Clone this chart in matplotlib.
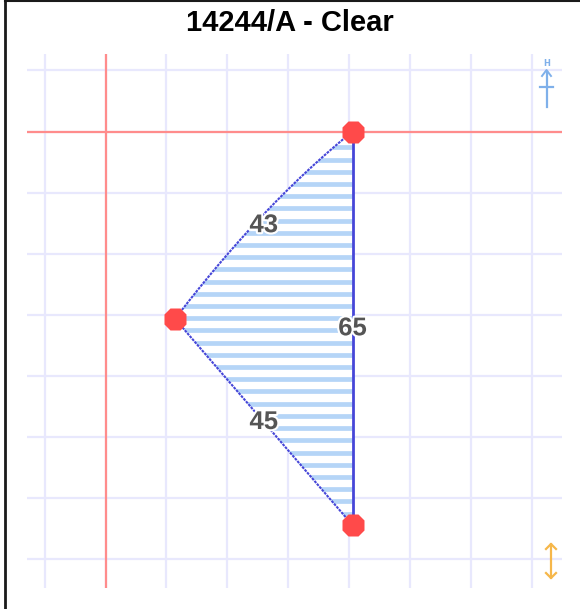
import numpy as np
import matplotlib
matplotlib.use('Agg')
import matplotlib.pyplot as plt
from matplotlib.patches import Polygon
from matplotlib.lines import Line2D
import matplotlib.patheffects as pe

# triangle corners (grid units, y grows downwards): left, top, bottom
corner_x = [11.4, 40.5, 40.5]
corner_y = [30.7, 0.0, 64.5]
# the 43 side is drawn as a curve bending out through this control point
curve_ctrl = (25.7, 12.0)
side_labels = ['43', '65', '45']
title = '14244/A - Clear'

W, H = 580, 609
fig = plt.figure(figsize=(W / 100, H / 100), dpi=100)
fig.patch.set_facecolor('white')

# axes box in pixels: x 27..562, y 54..588
ax = fig.add_axes([27 / W, 1 - 588 / H, 535 / W, 534 / H])
ax.set_xlim(-12.87, 74.84)
ax.set_ylim(74.8, -12.7)
for s in ax.spines.values():
    s.set_visible(False)
ax.set_xticks(np.arange(-10, 71, 10))
ax.set_yticks(np.arange(-10, 71, 10))
ax.tick_params(length=0, labelbottom=False, labelleft=False)
ax.grid(True, color='#e8e8fd', lw=1.6)
ax.set_axisbelow(True)
ax.axhline(0, color='#ff8c8c', lw=1.6, zorder=1)
ax.axvline(0, color='#ff8c8c', lw=1.6, zorder=1)

L = np.array([corner_x[0], corner_y[0]])
T = np.array([corner_x[1], corner_y[1]])
B = np.array([corner_x[2], corner_y[2]])
C = np.array(curve_ctrl)
t = np.linspace(0, 1, 60)[:, None]
curve = (1 - t) ** 2 * L + 2 * t * (1 - t) * C + t ** 2 * T

outline = np.vstack([curve, B, L])
poly = Polygon(outline, closed=True, facecolor='white', edgecolor='none', zorder=2)
ax.add_patch(poly)

# horizontal stripes filling the shape
for yy in np.arange(corner_y[1] + 0.6, corner_y[2], 2.0):
    ln, = ax.plot([corner_x[0] - 2, corner_x[1] + 1], [yy, yy],
                  color='#b5d5f7', lw=3.4, zorder=3, solid_capstyle='butt')
    ln.set_clip_path(poly)

ax.plot(curve[:, 0], curve[:, 1], color='#4646d8', lw=1.5,
        ls=(0, (1.3, 0.5)), zorder=4)
ax.plot([L[0], B[0]], [L[1], B[1]], color='#4646d8', lw=1.5,
        ls=(0, (1.3, 0.5)), zorder=4)
ax.plot([T[0], B[0]], [T[1], B[1]], color='#4646d8', lw=2.0, zorder=4)

ax.plot(corner_x, corner_y, ls='none', marker='8', ms=17,
        color='#ff4a4a', mec='none', zorder=6)

mids = [(L + T) / 2, (T + B) / 2, (L + B) / 2]
for lab, m in zip(side_labels, mids):
    ax.text(m[0], m[1], lab, ha='center', va='center', fontsize=18.5,
            fontweight='bold', family='Liberation Sans', color='#555555', zorder=7,
            path_effects=[pe.withStroke(linewidth=3, foreground='white')])

fig.text(290 / W, 1 - 23 / H, title, ha='center', va='center', fontsize=21,
         fontweight='bold', family='Liberation Sans', color='black')

# small icons at the right edge
def fx(px):
    return px / W

def fy(py):
    return 1 - py / H

blue = '#7fb0ea'
fig.text(fx(546.5), fy(63), 'H', ha='center', va='center', fontsize=6,
         fontweight='bold', color=blue)
fig.add_artist(Line2D([fx(546.5), fx(546.5)], [fy(107), fy(72)], color=blue, lw=1.6))
fig.add_artist(Line2D([fx(542), fx(546.5), fx(551)], [fy(76), fy(70), fy(76)], color=blue, lw=1.4))
fig.add_artist(Line2D([fx(540), fx(553)], [fy(87), fy(87)], color=blue, lw=1.6))

orange = '#f6b74a'
fig.add_artist(Line2D([fx(551), fx(551)], [fy(544), fy(578)], color=orange, lw=1.6))
fig.add_artist(Line2D([fx(546), fx(551), fx(556)], [fy(549), fy(544), fy(549)], color=orange, lw=1.6))
fig.add_artist(Line2D([fx(546), fx(551), fx(556)], [fy(573), fy(578), fy(573)], color=orange, lw=1.6))

# page frame (left and top edges only are inside the picture)
fig.add_artist(Line2D([fx(4.5), fx(4.5)], [fy(1), fy(H + 5)], color='#1a1a1a', lw=2))
fig.add_artist(Line2D([fx(4.5), fx(W + 5)], [fy(1.2), fy(1.2)], color='#1a1a1a', lw=1.5))

fig.savefig('out.png', dpi=100)
